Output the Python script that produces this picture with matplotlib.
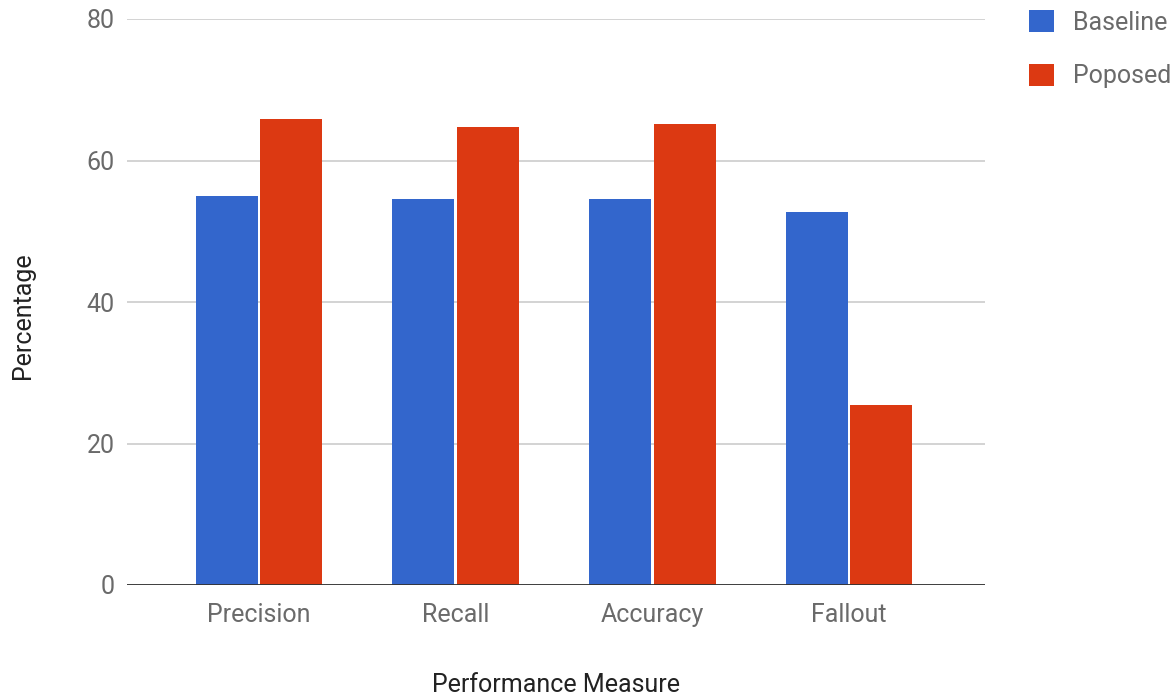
import numpy as np
import matplotlib.pyplot as plt
from matplotlib.patches import Patch

plt.rcParams['font.family'] = ['Roboto', 'DejaVu Sans']

measures = ['Precision', 'Recall', 'Accuracy', 'Fallout']
baseline = [55.0, 54.5, 54.5, 52.7]
proposed = [65.9, 64.8, 65.2, 25.4]
series_names = ['Baseline', 'Poposed']

blue = '#3366cc'
red = '#dc3912'
txt = '#6a6a6a'
fs = 18

fig = plt.figure(figsize=(11.76, 6.97), dpi=100)
ax = fig.add_axes([127/1176, 1 - 585/697, (985 - 127)/1176, (585 - 19)/697])

x = np.arange(len(measures))
w = 0.315
gap = 0.006
ax.bar(x - w/2 - gap, baseline, width=w, color=blue, zorder=3)
ax.bar(x + w/2 + gap, proposed, width=w, color=red, zorder=3)

ax.set_xlim(-0.67, 3.69)
ax.set_ylim(0, 80)
ax.set_yticks([0, 20, 40, 60, 80])
ax.set_xticks(x)
ax.set_xticklabels(measures)
ax.yaxis.grid(True, color='#cccccc', linewidth=1.2, zorder=0)
ax.axhline(0, color='#333333', linewidth=1.3, zorder=4)
for s in ax.spines.values():
    s.set_visible(False)
ax.tick_params(axis='both', length=0, labelsize=fs, labelcolor=txt)
ax.tick_params(axis='y', pad=9)
ax.tick_params(axis='x', pad=13)

ax.set_xlabel('Performance Measure', fontsize=fs, color='#222222', labelpad=33)
ax.set_ylabel('Percentage', fontsize=fs, color='#222222', labelpad=37, y=0.475)

handles = [Patch(facecolor=blue), Patch(facecolor=red)]
ax.legend(handles, series_names, loc='upper left',
          bbox_to_anchor=(1029/1176, 1 - 10/697), bbox_transform=fig.transFigure,
          frameon=False, fontsize=fs, labelcolor=txt,
          borderpad=0, borderaxespad=0,
          handlelength=1.0, handleheight=1.0, handletextpad=0.75,
          labelspacing=1.15)

fig.savefig('out.png', dpi=100)
